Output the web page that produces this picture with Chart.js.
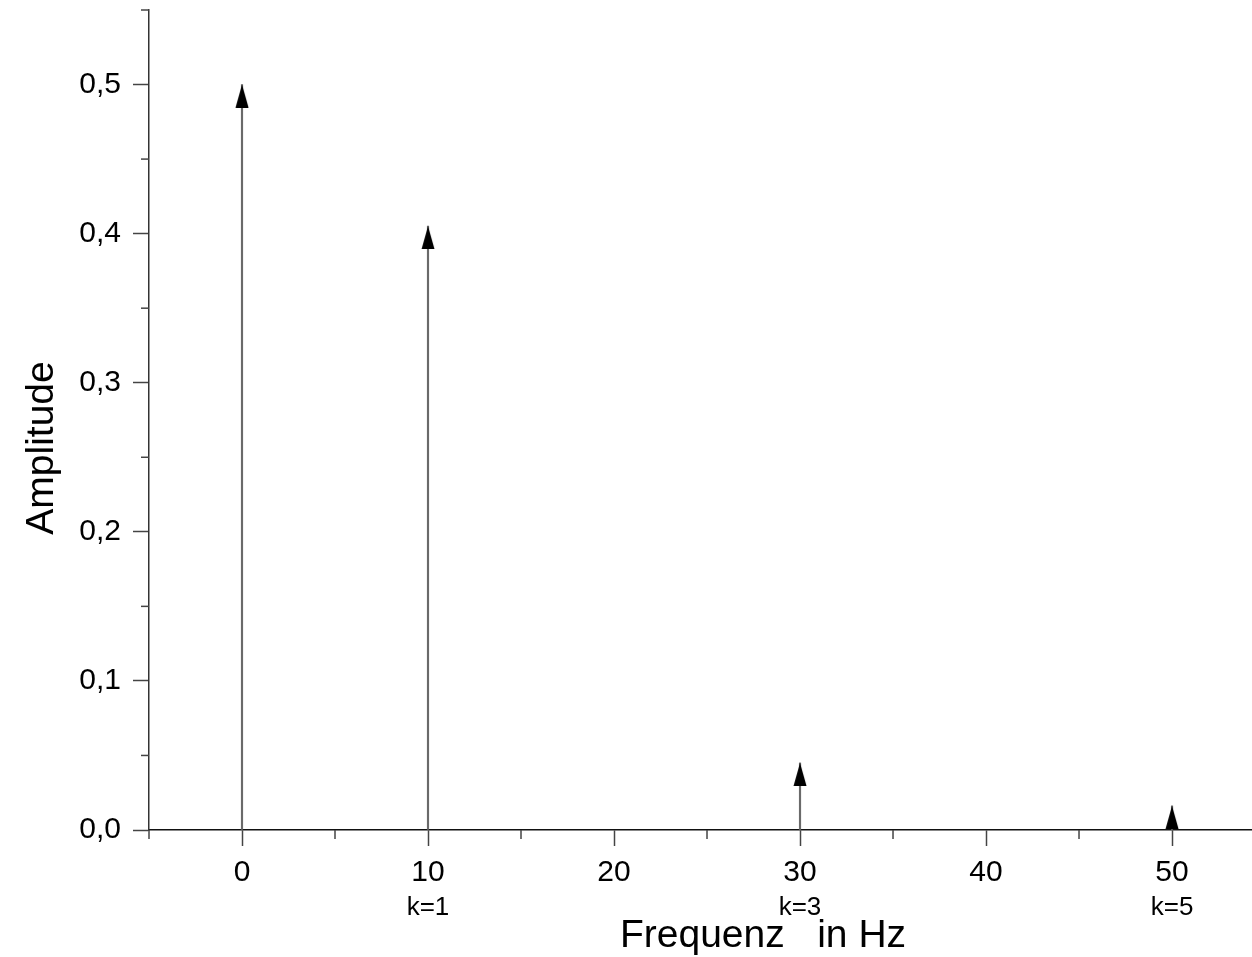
<!DOCTYPE html>
<html>
<head>
<meta charset="utf-8">
<script src="https://cdn.jsdelivr.net/npm/chart.js@4"></script>
<style>
  html, body { margin: 0; padding: 0; background: #fff; overflow: hidden; }
</style>
</head>
<body>
<canvas id="spectrum" width="1252" height="957"></canvas>
<script>
// Spectrum values
const freqs = [0, 10, 30, 50];
const amps = [0.5, 0.405, 0.045, 0.0162];
const harmonics = ['', 'k=1', 'k=3', 'k=5'];

// Axis ticks
const xMajor = [0, 10, 20, 30, 40, 50];
const xMinor = [-5, 5, 15, 25, 35, 45, 55];
const yMajor = [0, 0.1, 0.2, 0.3, 0.4, 0.5];
const yMinor = [0.05, 0.15, 0.25, 0.35, 0.45, 0.55];

const FONT = '"Liberation Sans", Arial, sans-serif';

// arrow head as point image, tip sits at the point centre
function makeArrow() {
    const c = document.createElement('canvas');
    c.width = 14;
    c.height = 46;
    const g = c.getContext('2d');
    g.fillStyle = '#000';
    g.beginPath();
    g.moveTo(7, 23);
    g.lineTo(13.5, 46);
    g.lineTo(0.5, 46);
    g.closePath();
    g.fill();
    return c;
}

function noPad(s) {
    s.paddingTop = 0;
    s.paddingBottom = 0;
    s.paddingLeft = 0;
    s.paddingRight = 0;
}

const extras = {
    id: 'extras',
    afterDraw(chart) {
        const ctx = chart.ctx;
        const xs = chart.scales.x;
        const ys = chart.scales.y;
        const area = chart.chartArea;
        ctx.save();

        // minor ticks
        ctx.strokeStyle = '#444';
        ctx.lineWidth = 1.5;
        xMinor.forEach(v => {
            const px = xs.getPixelForValue(v);
            if (px < area.left - 1 || px > area.right + 1) return;
            ctx.beginPath();
            ctx.moveTo(px, area.bottom);
            ctx.lineTo(px, area.bottom + 9);
            ctx.stroke();
        });
        yMinor.forEach(v => {
            const py = ys.getPixelForValue(v);
            ctx.beginPath();
            ctx.moveTo(area.left, py);
            ctx.lineTo(area.left - 8, py);
            ctx.stroke();
        });

        // harmonic labels
        ctx.fillStyle = '#000';
        ctx.font = '26px ' + FONT;
        ctx.textAlign = 'center';
        ctx.textBaseline = 'alphabetic';
        freqs.forEach((f, i) => {
            if (!harmonics[i]) return;
            ctx.fillText(harmonics[i], xs.getPixelForValue(f), 915);
        });

        // axis titles
        ctx.font = '39px ' + FONT;
        ctx.fillText('Frequenz   in Hz', 763, 947);
        ctx.translate(53, 448);
        ctx.rotate(-Math.PI / 2);
        ctx.fillText('Amplitude', 0, 0);
        ctx.restore();
    }
};

new Chart(document.getElementById('spectrum'), {
    data: {
        datasets: [
            {
                type: 'scatter',
                data: freqs.map((f, i) => ({ x: f, y: amps[i] })),
                pointStyle: makeArrow(),
                pointRadius: 10,
                order: 0
            },
            {
                type: 'bar',
                data: freqs.map((f, i) => ({ x: f, y: amps[i] })),
                backgroundColor: '#6a6a6a',
                barThickness: 1.5,
                order: 1
            }
        ]
    },
    options: {
        responsive: false,
        animation: false,
        layout: { autoPadding: false, padding: { top: 10, right: 0, left: 0, bottom: 0 } },
        plugins: { legend: { display: false }, tooltip: { enabled: false } },
        scales: {
            x: {
                type: 'linear',
                min: -5,
                max: 54.3,
                offset: false,
                afterBuildTicks: s => { s.ticks = xMajor.map(v => ({ value: v })); },
                afterFit: s => { s.height = 127; noPad(s); },
                grid: { offset: false, drawOnChartArea: false, tickLength: 16, tickColor: '#444', tickWidth: 1.5 },
                border: { display: true, color: '#111', width: 1.5 },
                ticks: {
                    color: '#000',
                    padding: 9,
                    maxRotation: 0,
                    autoSkip: false,
                    font: { family: FONT, size: 30 },
                    callback: v => String(v)
                }
            },
            y: {
                type: 'linear',
                min: 0,
                max: 0.55,
                afterBuildTicks: s => { s.ticks = yMajor.map(v => ({ value: v })); },
                afterFit: s => { s.width = 149; noPad(s); },
                grid: { drawOnChartArea: false, tickLength: 16, tickColor: '#444', tickWidth: 1.5 },
                border: { display: true, color: '#333', width: 1.5 },
                ticks: {
                    color: '#000',
                    padding: 12,
                    autoSkip: false,
                    font: { family: FONT, size: 30 },
                    callback: v => Number(v).toFixed(1).replace('.', ',')
                }
            }
        }
    },
    plugins: [extras]
});
</script>
</body>
</html>
